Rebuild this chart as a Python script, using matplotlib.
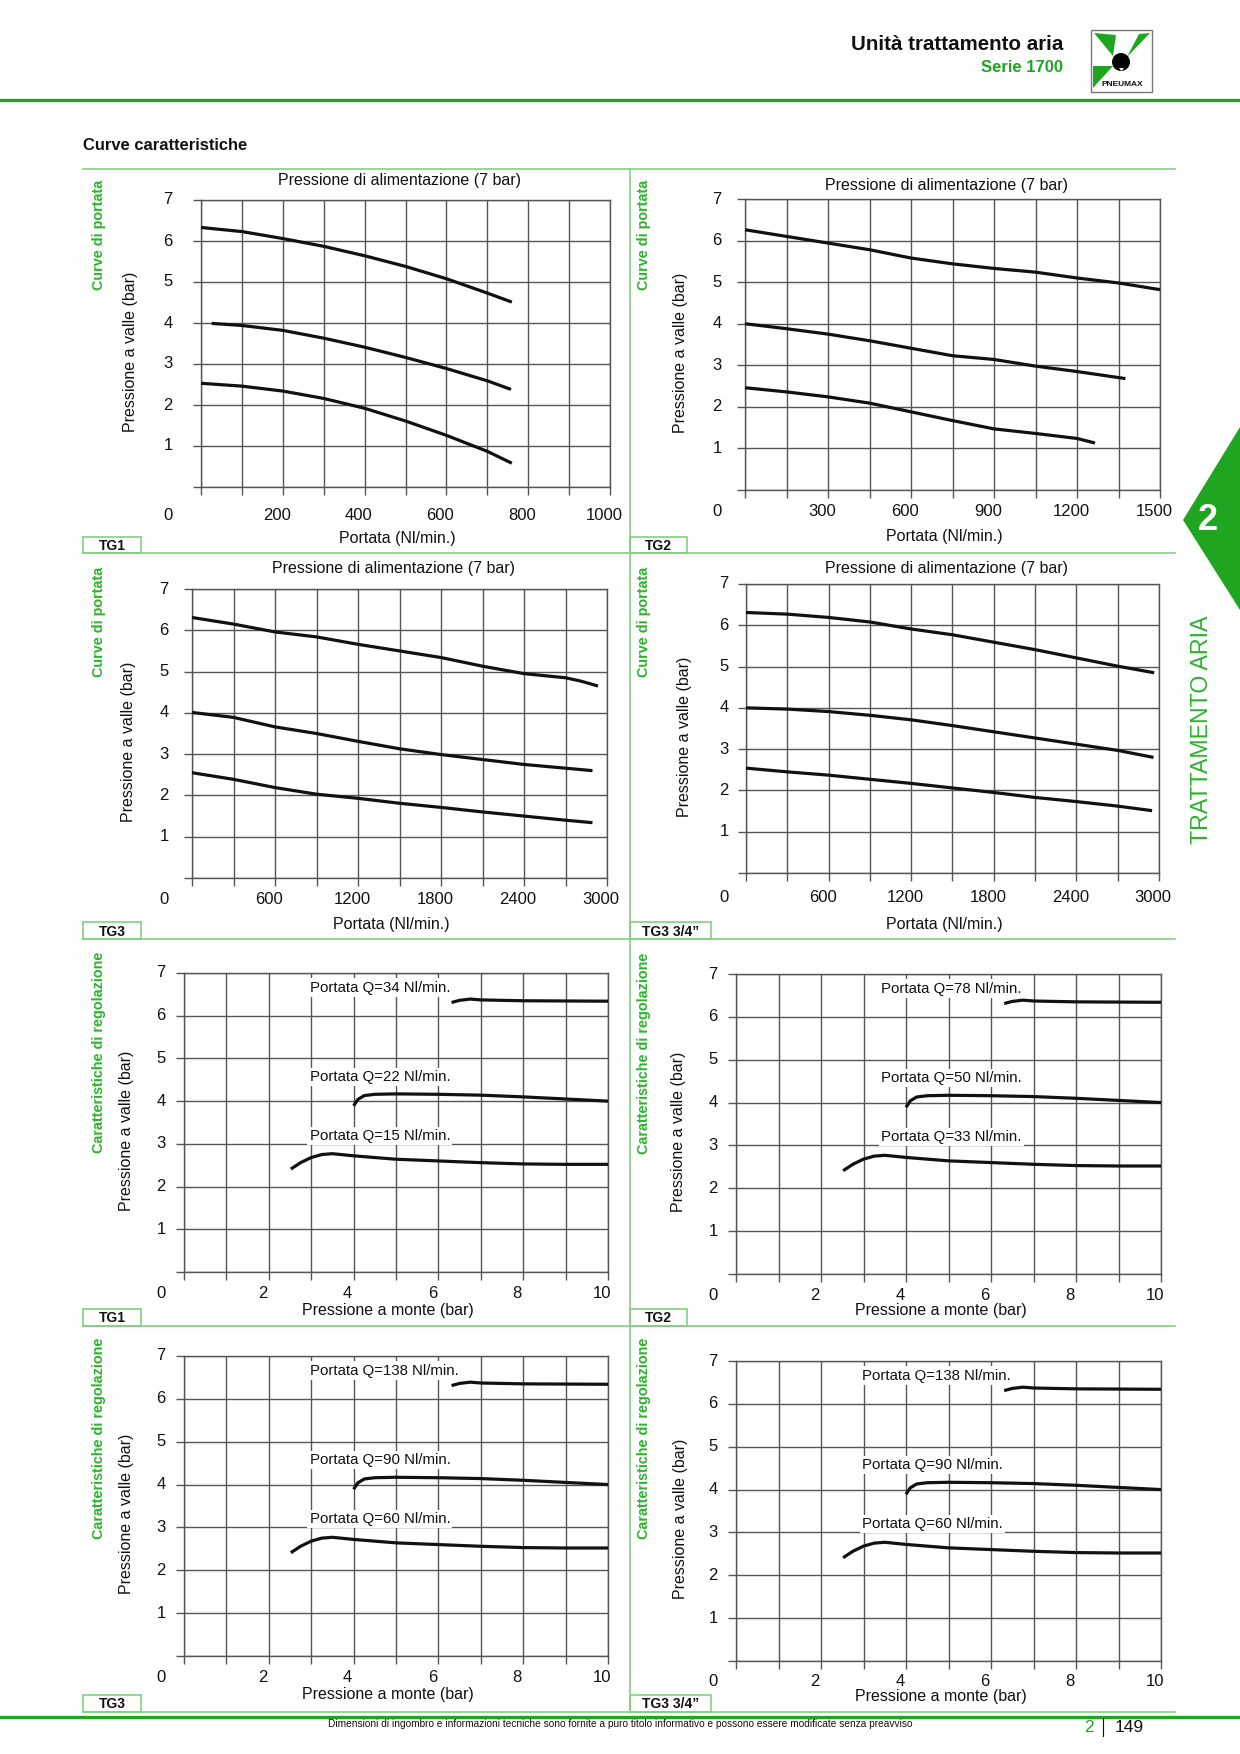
import matplotlib

matplotlib.use("Agg")
import matplotlib.pyplot as plt
import matplotlib.transforms as mtransforms
from matplotlib.patches import Circle, Polygon, Rectangle
import numpy as np

plt.rcParams["font.family"] = ["Liberation Sans", "DejaVu Sans"]

W, H, DPI = 1240, 1754, 100

GREEN = "#1fa51f"
GREEN_LINE = "#80d280"
GREEN_TEXT = "#2bb42b"
GRID = "#555555"
INK = "#111111"

# Flow curves: Portata (Nl/min.) -> Pressione a valle (bar)
tg1_x_hi = [0, 100, 200, 300, 400, 500, 600, 700, 760]
tg1_y_hi = [6.33, 6.23, 6.06, 5.87, 5.64, 5.38, 5.08, 4.73, 4.51]
tg1_x_mid = [26, 100, 200, 300, 400, 500, 600, 700, 758]
tg1_y_mid = [3.99, 3.94, 3.82, 3.63, 3.41, 3.16, 2.89, 2.59, 2.38]
tg1_x_lo = [0, 100, 200, 300, 400, 500, 600, 700, 760]
tg1_y_lo = [2.53, 2.46, 2.34, 2.16, 1.92, 1.61, 1.26, 0.87, 0.58]

tg2_x_hi = [0, 150, 300, 450, 600, 750, 900, 1050, 1200, 1350, 1500]
tg2_y_hi = [6.26, 6.10, 5.94, 5.78, 5.58, 5.44, 5.33, 5.24, 5.10, 4.98, 4.82]
tg2_x_mid = [0, 150, 300, 450, 600, 750, 900, 1050, 1200, 1375]
tg2_y_mid = [4.00, 3.88, 3.75, 3.59, 3.41, 3.23, 3.14, 2.98, 2.85, 2.68]
tg2_x_lo = [0, 150, 300, 450, 600, 750, 900, 1050, 1200, 1265]
tg2_y_lo = [2.46, 2.36, 2.24, 2.09, 1.88, 1.67, 1.47, 1.36, 1.24, 1.13]

tg3_x_hi = [0, 300, 600, 900, 1200, 1500, 1800, 2100, 2400, 2700, 2810, 2935]
tg3_y_hi = [6.31, 6.15, 5.96, 5.84, 5.66, 5.50, 5.34, 5.13, 4.95, 4.85, 4.77, 4.65]
tg3_x_mid = [0, 300, 600, 900, 1200, 1500, 1800, 2100, 2400, 2700, 2895]
tg3_y_mid = [4.01, 3.89, 3.66, 3.50, 3.31, 3.13, 2.99, 2.87, 2.75, 2.66, 2.60]
tg3_x_lo = [0, 300, 600, 900, 1200, 1500, 1800, 2100, 2400, 2700, 2895]
tg3_y_lo = [2.55, 2.39, 2.19, 2.03, 1.93, 1.81, 1.71, 1.60, 1.50, 1.40, 1.34]

tg34_x_hi = [0, 300, 600, 900, 1200, 1500, 1800, 2100, 2400, 2700, 2965]
tg34_y_hi = [6.31, 6.27, 6.19, 6.08, 5.91, 5.77, 5.59, 5.41, 5.21, 5.01, 4.85]
tg34_x_mid = [0, 300, 600, 900, 1200, 1500, 1800, 2100, 2400, 2700, 2960]
tg34_y_mid = [4.00, 3.97, 3.91, 3.82, 3.71, 3.57, 3.42, 3.27, 3.12, 2.97, 2.80]
tg34_x_lo = [0, 300, 600, 900, 1200, 1500, 1800, 2100, 2400, 2700, 2950]
tg34_y_lo = [2.54, 2.45, 2.37, 2.27, 2.17, 2.06, 1.95, 1.83, 1.73, 1.62, 1.51]

# Regulation curves: Pressione a monte (bar) -> Pressione a valle (bar), same shape on all 4 charts
reg_x_hi = [6.31, 6.5, 6.75, 7.0, 8.0, 9.0, 10.0]
reg_y_hi = [6.31, 6.36, 6.39, 6.37, 6.35, 6.345, 6.34]
reg_x_mid = [4.0, 4.1, 4.25, 4.5, 5.0, 6.0, 7.0, 8.0, 9.0, 10.0]
reg_y_mid = [3.89, 4.04, 4.13, 4.16, 4.17, 4.16, 4.14, 4.10, 4.05, 4.00]
reg_x_lo = [2.52, 2.75, 3.0, 3.25, 3.5, 4.0, 5.0, 6.0, 7.0, 8.0, 9.0, 10.0]
reg_y_lo = [2.41, 2.56, 2.68, 2.75, 2.77, 2.72, 2.64, 2.60, 2.56, 2.53, 2.52, 2.52]

q_tg1 = ["Portata Q=34 Nl/min.", "Portata Q=22 Nl/min.", "Portata Q=15 Nl/min."]
q_tg2 = ["Portata Q=78 Nl/min.", "Portata Q=50 Nl/min.", "Portata Q=33 Nl/min."]
q_tg3 = ["Portata Q=138 Nl/min.", "Portata Q=90 Nl/min.", "Portata Q=60 Nl/min."]
q_tg34 = ["Portata Q=138 Nl/min.", "Portata Q=90 Nl/min.", "Portata Q=60 Nl/min."]
q_label_y = [6.66, 4.57, 3.19]

flow_xticks_tg1 = [200, 400, 600, 800, 1000]
flow_xticks_tg2 = [300, 600, 900, 1200, 1500]
flow_xticks_tg3 = [600, 1200, 1800, 2400, 3000]
reg_xticks = [2, 4, 6, 8, 10]

fig = plt.figure(figsize=(W / DPI, H / DPI), dpi=DPI)
page = fig.add_axes([0, 0, 1, 1])
page.set_xlim(0, W)
page.set_ylim(H, 0)
page.axis("off")


def px_shift(dx, dy):
    # offset in pixels, dy positive downwards
    return mtransforms.ScaledTranslation(dx / DPI, -dy / DPI, fig.dpi_scale_trans)


def make_axes(left, top, right, bottom):
    return fig.add_axes([left / W, 1 - bottom / H, (right - left) / W, (bottom - top) / H])


def draw_chart(c):
    ax = make_axes(*c["box"])
    ax.set_xlim(0, c["xmax"])
    ax.set_ylim(0, 7)
    ax.set_xticks(np.arange(0, c["xmax"] + 1e-9, c["grid"]))
    ax.set_yticks(range(8))
    ax.grid(True, color=GRID, lw=1.0)
    ax.set_axisbelow(True)
    ax.tick_params(direction="out", length=6, width=1.0, color=GRID,
                   labelbottom=False, labelleft=False)
    for s in ax.spines.values():
        s.set_color(GRID)
        s.set_linewidth(1.0)

    for xs, ys in c["curves"]:
        ax.plot(xs, ys, color=INK, lw=2.3, solid_capstyle="butt", clip_on=False, zorder=3)

    bx = ax.get_xaxis_transform()
    by = ax.get_yaxis_transform()
    for v in c["xlabels"]:
        ax.text(v, 0, f"{v}", transform=bx + px_shift(-6, c["xrow"]),
                ha="center", va="center", fontsize=12, color=INK)
    ax.text(0, 0, "0", transform=ax.transAxes + px_shift(c["ytx"], c["xrow"]),
            ha="center", va="center", fontsize=12, color=INK)
    for v in range(1, 8):
        ax.text(0, v, str(v), transform=by + px_shift(c["ytx"], 0),
                ha="center", va="center", fontsize=12, color=INK)

    if c.get("title"):
        ax.text(0.5, 1, c["title"], transform=ax.transAxes + px_shift(-6, -c["tdy"]),
                ha="center", va="center", fontsize=11.5, color=INK)
    ax.text(0.5, 0, c["xlabel"], transform=ax.transAxes + px_shift(-8, c["xldy"]),
            ha="center", va="center", fontsize=11.5, color=INK)
    ax.text(0, 0.5, "Pressione a valle (bar)", rotation=90,
            transform=ax.transAxes + px_shift(c["yldx"], 8),
            ha="center", va="center", fontsize=11.5, color=INK)

    if c.get("qlabels"):
        for lab, y in zip(c["qlabels"], q_label_y):
            ax.text(c["qx"], y, lab, ha="left", va="center", fontsize=10.8, color=INK,
                    bbox=dict(facecolor="white", edgecolor="none", pad=1.5), zorder=4)

    gx, gy = c["green"]
    page.text(gx, gy, c["side"], rotation=90, ha="center", va="top",
              fontsize=10.4, fontweight="bold", color=GREEN_TEXT)
    x0, y0, x1, y1 = c["tag_box"]
    page.add_patch(Rectangle((x0, y0), x1 - x0, y1 - y0, facecolor="white",
                             edgecolor=GREEN_LINE, lw=1.2))
    page.text((x0 + x1) / 2, (y0 + y1) / 2 + 1, c["tag"], ha="center", va="center",
              fontsize=10, fontweight="bold", color=INK)
    return ax


FLOW_TITLE = "Pressione di alimentazione (7 bar)"
charts = [
    dict(box=(201, 200, 610, 487), xmax=1000, grid=100, xlabels=flow_xticks_tg1,
         curves=[(tg1_x_hi, tg1_y_hi), (tg1_x_mid, tg1_y_mid), (tg1_x_lo, tg1_y_lo)],
         title=FLOW_TITLE, xlabel="Portata (Nl/min.)", tdy=19, ytx=-33, xrow=28, xldy=52, yldx=-70,
         side="Curve di portata", green=(99, 180), tag="TG1", tag_box=(83, 537, 141, 553)),
    dict(box=(745, 199, 1160, 490), xmax=1500, grid=150, xlabels=flow_xticks_tg2,
         curves=[(tg2_x_hi, tg2_y_hi), (tg2_x_mid, tg2_y_mid), (tg2_x_lo, tg2_y_lo)],
         title=FLOW_TITLE, xlabel="Portata (Nl/min.)", tdy=14, ytx=-28, xrow=22, xldy=46, yldx=-65,
         side="Curve di portata", green=(644, 180), tag="TG2", tag_box=(630, 537, 687, 553)),
    dict(box=(192, 589, 607, 878), xmax=3000, grid=300, xlabels=flow_xticks_tg3,
         curves=[(tg3_x_hi, tg3_y_hi), (tg3_x_mid, tg3_y_mid), (tg3_x_lo, tg3_y_lo)],
         title=FLOW_TITLE, xlabel="Portata (Nl/min.)", tdy=21, ytx=-28, xrow=22, xldy=47, yldx=-63,
         side="Curve di portata", green=(99, 567), tag="TG3", tag_box=(83, 922, 141, 939)),
    dict(box=(746, 584, 1159, 873), xmax=3000, grid=300, xlabels=flow_xticks_tg3,
         curves=[(tg34_x_hi, tg34_y_hi), (tg34_x_mid, tg34_y_mid), (tg34_x_lo, tg34_y_lo)],
         title=FLOW_TITLE, xlabel="Portata (Nl/min.)", tdy=16, ytx=-22, xrow=24, xldy=51, yldx=-62,
         side="Curve di portata", green=(644, 567), tag="TG3 3/4\u201d", tag_box=(630, 922, 711, 939)),
    dict(box=(184, 973, 608, 1272), xmax=10, grid=1, xlabels=reg_xticks,
         curves=[(reg_x_hi, reg_y_hi), (reg_x_mid, reg_y_mid), (reg_x_lo, reg_y_lo)],
         xlabel="Pressione a monte (bar)", ytx=-23, xrow=21, xldy=38, yldx=-57,
         qlabels=q_tg1, qx=2.96,
         side="Caratteristiche di regolazione", green=(99, 952), tag="TG1", tag_box=(83, 1309, 141, 1326)),
    dict(box=(736, 974, 1161, 1274), xmax=10, grid=1, xlabels=reg_xticks,
         curves=[(reg_x_hi, reg_y_hi), (reg_x_mid, reg_y_mid), (reg_x_lo, reg_y_lo)],
         xlabel="Pressione a monte (bar)", ytx=-23, xrow=22, xldy=37, yldx=-57,
         qlabels=q_tg2, qx=3.42,
         side="Caratteristiche di regolazione", green=(644, 953), tag="TG2", tag_box=(630, 1309, 687, 1326)),
    dict(box=(184, 1356, 608, 1656), xmax=10, grid=1, xlabels=reg_xticks,
         curves=[(reg_x_hi, reg_y_hi), (reg_x_mid, reg_y_mid), (reg_x_lo, reg_y_lo)],
         xlabel="Pressione a monte (bar)", ytx=-23, xrow=21, xldy=39, yldx=-57,
         qlabels=q_tg3, qx=2.96,
         side="Caratteristiche di regolazione", green=(99, 1338), tag="TG3", tag_box=(83, 1695, 141, 1712)),
    dict(box=(736, 1361, 1161, 1661), xmax=10, grid=1, xlabels=reg_xticks,
         curves=[(reg_x_hi, reg_y_hi), (reg_x_mid, reg_y_mid), (reg_x_lo, reg_y_lo)],
         xlabel="Pressione a monte (bar)", ytx=-23, xrow=21, xldy=36, yldx=-56,
         qlabels=q_tg34, qx=2.97,
         side="Caratteristiche di regolazione", green=(644, 1338), tag="TG3 3/4\u201d", tag_box=(630, 1695, 711, 1712)),
]

# panel separators
for yy in [169, 553, 939, 1326, 1712]:
    page.plot([83, 1175], [yy, yy], color=GREEN_LINE, lw=1.2)
page.plot([630, 630], [169, 1712], color=GREEN_LINE, lw=1.2)

for c in charts:
    draw_chart(c)

# header
page.plot([0, W], [100, 100], color=GREEN, lw=2.4)
page.text(1063, 45, "Unità trattamento aria", ha="right", va="center",
          fontsize=14.8, fontweight="bold", color=INK)
page.text(1063, 67, "Serie 1700", ha="right", va="center",
          fontsize=12, fontweight="bold", color=GREEN)
page.text(83, 146, "Curve caratteristiche", ha="left", va="center",
          fontsize=11.9, fontweight="bold", color=INK)

# logo
page.add_patch(Rectangle((1091, 30), 61, 62, facecolor="white", edgecolor="#777777", lw=1.0))
page.add_patch(Polygon([(1094, 33), (1116, 35), (1113, 56)], closed=True, facecolor=GREEN, edgecolor="none"))
page.add_patch(Polygon([(1150, 33), (1139, 34), (1127, 57)], closed=True, facecolor=GREEN, edgecolor="none"))
page.add_patch(Polygon([(1093, 66), (1093, 88), (1113, 66)], closed=True, facecolor=GREEN, edgecolor="none"))
page.add_patch(Circle((1121, 62), 9, facecolor="black", edgecolor="none"))
page.add_patch(Polygon([(1119, 68), (1124, 68), (1121.5, 71)], closed=True, facecolor="white", edgecolor="none"))
page.text(1122, 85, "PNEUMAX", ha="center", va="center", fontsize=6, fontweight="bold", color=INK)

# right side tab
page.add_patch(Polygon([(1240, 427), (1183, 520), (1240, 610)], closed=True, facecolor=GREEN, edgecolor="none"))
page.text(1208, 521, "2", ha="center", va="center", fontsize=26, fontweight="bold", color="white")
page.text(1202, 730, "TRATTAMENTO ARIA", rotation=90, ha="center", va="center",
          fontsize=16.7, color=GREEN_TEXT)

# footer
page.plot([0, W], [1717, 1717], color=GREEN, lw=2.4)
page.text(620, 1724, "Dimensioni di ingombro e informazioni tecniche sono fornite a puro titolo "
          "informativo e possono essere modificate senza preavviso",
          ha="center", va="center", fontsize=7.3, color=INK)
page.text(1089, 1727, "2", ha="center", va="center", fontsize=12.5, color=GREEN)
page.plot([1103, 1103], [1718, 1736], color=INK, lw=0.8)
page.text(1129, 1727, "149", ha="center", va="center", fontsize=12.5, color=INK)

fig.savefig("out.png", dpi=DPI)
plt.close(fig)
